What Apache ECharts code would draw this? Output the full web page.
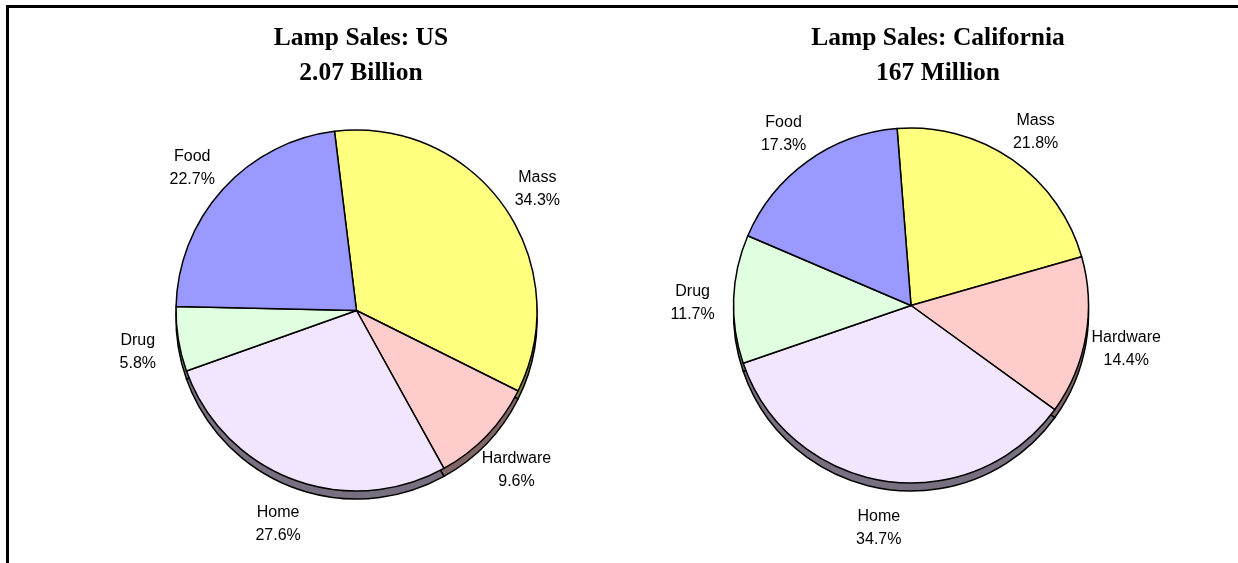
<!DOCTYPE html>
<html><head><meta charset="utf-8">
<script src="https://cdn.jsdelivr.net/npm/echarts@6/dist/echarts.min.js"></script>
<style>html,body{margin:0;padding:0;background:#fff}#c{width:1238px;height:563px}</style>
</head><body><div id="c"></div>
<script>
const categories = ['Mass', 'Hardware', 'Home', 'Drug', 'Food'];
const usValues = [34.3, 9.6, 27.6, 5.8, 22.7];
const caValues = [21.8, 14.4, 34.7, 11.7, 17.3];
const titles = [['Lamp Sales: US', '2.07 Billion'], ['Lamp Sales: California', '167 Million']];

const fillColors = ['#FFFF80', '#FFCCCC', '#F2E6FF', '#E0FFE0', '#9999FF'];
const shadeColors = ['#808040', '#806666', '#787080', '#708070', '#4D4D80'];

function mk(vals, cols) {
  return categories.map((n, i) => ({ name: n, value: vals[i], itemStyle: { color: cols[i] } }));
}

function pieSet(vals, cx, cy, R, startAngle) {
  const base = { type: 'pie', clockwise: true, startAngle: startAngle, animation: false, minAngle: 0, avoidLabelOverlap: false };
  return [
    Object.assign({}, base, {
      center: [cx, cy + 8], radius: R, silent: true, z: 1,
      data: mk(vals, shadeColors),
      itemStyle: { borderColor: '#000', borderWidth: 1.5 },
      label: { show: false }, labelLine: { show: false }
    }),
    Object.assign({}, base, {
      center: [cx, cy], radius: R, z: 2,
      data: mk(vals, fillColors),
      itemStyle: { borderColor: '#000', borderWidth: 1.5 },
      label: { show: false }, labelLine: { show: false }
    }),
    Object.assign({}, base, {
      center: [cx, cy + 6], radius: [R + 29, R + 47], z: 3, silent: true,
      data: mk(vals, categories.map(() => 'rgba(0,0,0,0)')),
      itemStyle: { borderWidth: 0 },
      label: {
        show: true, position: 'inside', color: '#000',
        fontFamily: 'Liberation Sans, Arial', fontSize: 16, lineHeight: 23,
        formatter: p => p.name + '\n' + p.value.toFixed(1) + '%'
      },
      labelLine: { show: false }
    })
  ];
}

const titleStyle = { fontFamily: 'Liberation Serif, Times New Roman', fontWeight: 'bold', fontSize: 25.5, lineHeight: 35, color: '#000' };
const chart = echarts.init(document.getElementById('c'), null, { renderer: 'canvas' });
chart.setOption({
  backgroundColor: '#fff',
  title: [
    { text: titles[0].join('\n'), left: 356, top: 16, textAlign: 'center', textStyle: titleStyle },
    { text: titles[1].join('\n'), left: 933, top: 16, textAlign: 'center', textStyle: titleStyle }
  ],
  graphic: [
    { type: 'line', shape: { x1: 6, y1: 6.5, x2: 1238, y2: 6.5 }, style: { stroke: '#000', lineWidth: 3 } },
    { type: 'line', shape: { x1: 7.5, y1: 5, x2: 7.5, y2: 563 }, style: { stroke: '#000', lineWidth: 3 } }
  ],
  series: [].concat(
    pieSet(usValues, 356.5, 310.5, 180.5, 97),
    pieSet(caValues, 911, 305.5, 177.5, 94.5)
  )
});
</script></body></html>
